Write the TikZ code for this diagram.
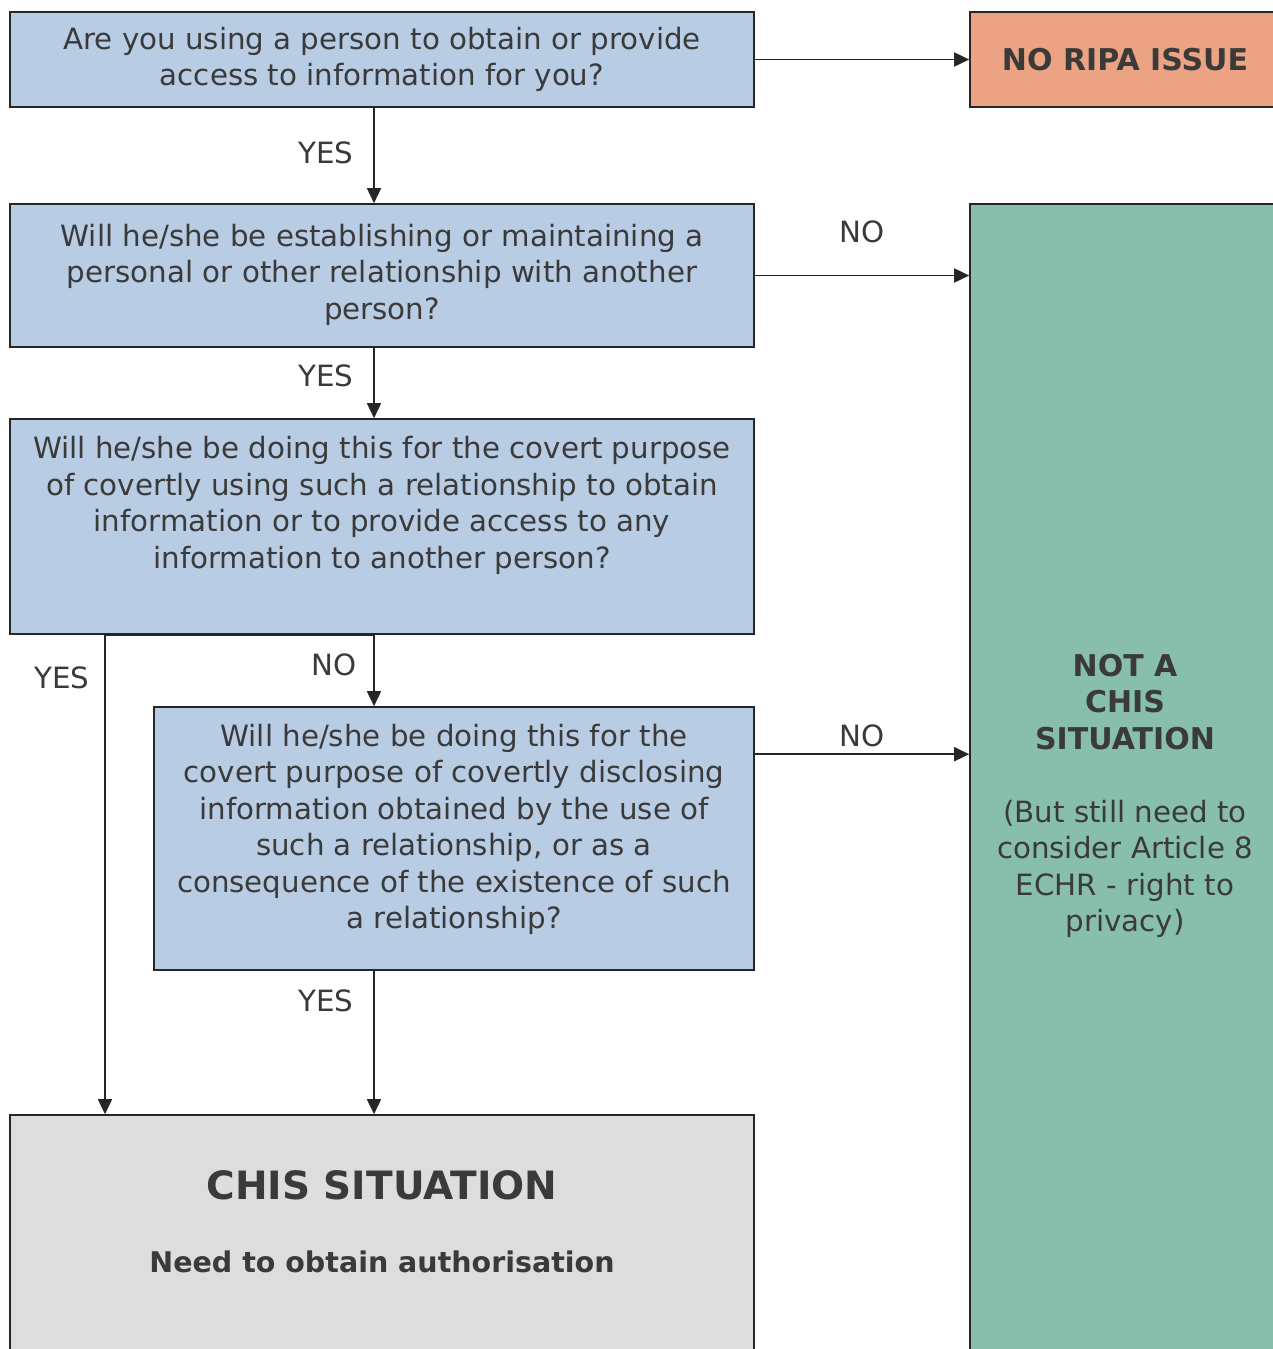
\documentclass[tikz,border=0pt]{standalone}
\usepackage{fontspec}
\setmainfont{DejaVu Sans}
\usetikzlibrary{arrows.meta}
\definecolor{qblue}{HTML}{B8CCE4}
\definecolor{qorange}{HTML}{EBA384}
\definecolor{qgreen}{HTML}{88BEAC}
\definecolor{qgray}{HTML}{DDDDDD}
\definecolor{txt}{HTML}{3A3A3A}
\definecolor{edge}{HTML}{262626}
\newcommand{\gbold}[1]{{\fontsize{30}{36.5}\selectfont\bfseries #1}}
\begin{document}
\begin{tikzpicture}[x=1pt,y=-1pt,
  basebox/.style={draw=edge, line width=1.6pt, text=txt, inner sep=0pt, align=center,
    font=\fontsize{29.3}{36.5}\selectfont},
  qbox/.style={basebox, fill=qblue},
  arr/.style={draw=edge, line width=1.6pt, -{Triangle[length=15pt,width=14pt]}},
  lbl/.style={text=txt, font=\fontsize{29.3}{36.5}\selectfont, inner sep=0pt}]
\useasboundingbox[fill=white] (0,0) rectangle (1273,1349);
\coordinate (c374) at (374,0);
\coordinate (c105) at (105,0);

\node[qbox, minimum width=744, minimum height=95] (q1) at (382,59.5)
  {Are you using a person to obtain or provide\\access to information for you?};
\node[basebox, fill=qorange, minimum width=310, minimum height=95, font=\fontsize{30}{36.5}\selectfont\bfseries] (nr) at (1125,59.5)
  {NO RIPA ISSUE};
\node[qbox, minimum width=744, minimum height=143] (q2) at (382,275.5)
  {Will he/she be establishing or maintaining a\\personal or other relationship with another\\person?\\[-28.5pt]\mbox{}};
\node[basebox, fill=qgreen, minimum width=310, minimum height=1184] (green) at (1125,796)
  {\gbold{NOT A}\\\gbold{CHIS}\\\gbold{SITUATION}\\\mbox{}\\(But still need to\\consider Article 8\\ECHR - right to\\privacy)};
\node[qbox, minimum width=744, minimum height=215] (q3) at (382,526.5)
  {Will he/she be doing this for the covert purpose\\of covertly using such a relationship to obtain\\information or to provide access to any\\information to another person?\\[12pt]\mbox{}};
\node[qbox, minimum width=600, minimum height=263] (q4) at (454,838.5)
  {Will he/she be doing this for the\\covert purpose of covertly disclosing\\information obtained by the use of\\such a relationship, or as a\\consequence of the existence of such\\a relationship?\\[-12pt]\mbox{}};
\node[basebox, fill=qgray, minimum width=744, minimum height=265] (chis) at (382,1247.5)
  {{\fontsize{39}{46}\selectfont\bfseries CHIS SITUATION}\\[37pt]
   {\fontsize{28.5}{36.5}\selectfont\bfseries Need to obtain authorisation}\\[15pt]\mbox{}};

\draw[arr] (q1.east) -- (nr.west);
\draw[arr] (q1.south -| c374) -- (q2.north -| c374);
\draw[arr] (q2.east) -- (q2.east -| green.west);
\draw[arr] (q2.south -| c374) -- (q3.north -| c374);
\draw[arr] (q3.south -| c374) -- (q4.north -| c374);
\draw[arr] (q3.south -| c374) -| (chis.north -| c105);
\draw[arr] ([yshift=-48pt]q4.north east) -- ([yshift=-48pt]q4.north east -| green.west);
\draw[arr] (q4.south -| c374) -- (chis.north -| c374);

\node[lbl] (y1) at (326,153) {YES};
\node[lbl] (y2) at (326,376) {YES};
\node[lbl] (y3) at (62,678) {YES};
\node[lbl] (y4) at (326,1001) {YES};
\node[lbl] (n1) at (862,232) {NO};
\node[lbl] (n2) at (334,665) {NO};
\node[lbl] (n3) at (862,736) {NO};
\end{tikzpicture}
\end{document}
